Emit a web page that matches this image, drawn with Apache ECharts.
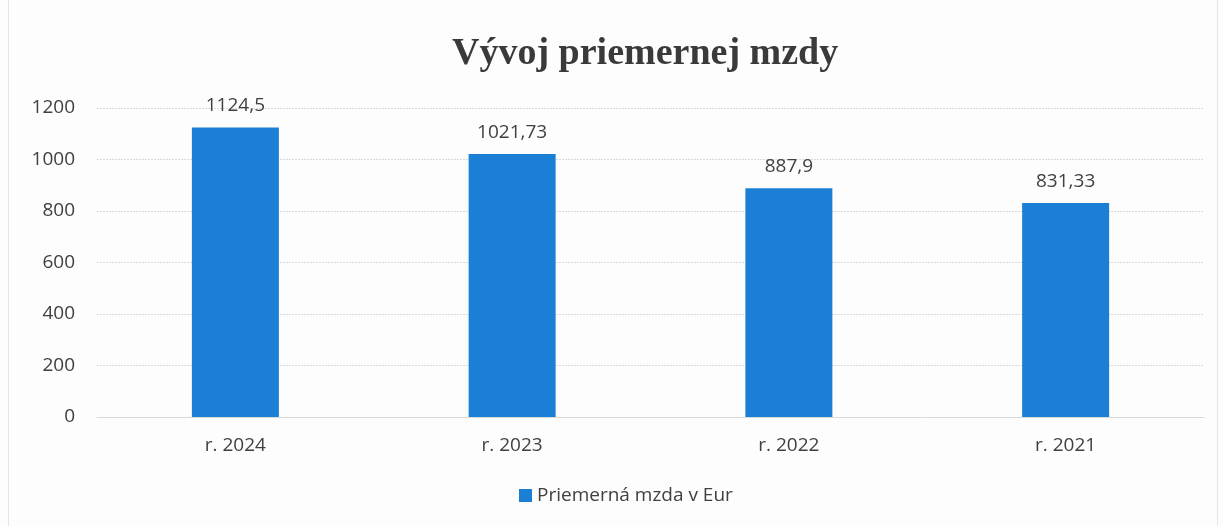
<!DOCTYPE html>
<html>
<head>
<meta charset="utf-8">
<script src="https://cdn.jsdelivr.net/npm/echarts@6/dist/echarts.min.js"></script>
<style>
  html, body { margin: 0; padding: 0; background: #fdfdfd; }
  #chart { position: absolute; left: 8px; top: 0; width: 1210px; height: 526px;
           border-left: 1px solid #e4e4e4; border-right: 1px solid #e4e4e4; box-sizing: border-box; }
</style>
</head>
<body>
<div id="chart"></div>
<script>
var categories = ['r. 2024', 'r. 2023', 'r. 2022', 'r. 2021'];
var wages = [1124.5, 1021.73, 887.9, 831.33];
var seriesName = 'Priemerná mzda v Eur';

var chart = echarts.init(document.getElementById('chart'));
chart.setOption({
    backgroundColor: '#fdfdfd',
    title: {
        text: 'Vývoj priemernej mzdy',
        left: 438,
        top: 30,
        textStyle: { fontFamily: 'Liberation Serif', fontWeight: 'bold', fontSize: 38, color: '#3a3a3a' }
    },
    legend: {
        data: [seriesName],
        bottom: 16,
        left: 505,
        icon: 'rect',
        itemWidth: 13,
        itemHeight: 13,
        itemGap: 6,
        textStyle: { fontFamily: 'Open Sans', fontSize: 19, color: '#404040' }
    },
    grid: { left: 88, right: 13, top: 108, bottom: 109 },
    xAxis: {
        type: 'category',
        data: categories,
        axisLine: { lineStyle: { color: '#d9d9d9' } },
        axisTick: { show: false },
        axisLabel: { fontFamily: 'Open Sans', fontSize: 19, color: '#404040', margin: 19 }
    },
    yAxis: {
        type: 'value',
        min: 0,
        max: 1200,
        interval: 200,
        axisLine: { show: false },
        axisTick: { show: false },
        splitLine: { lineStyle: { color: '#dadada', type: [2, 1] } },
        axisLabel: {
            fontFamily: 'Open Sans', fontSize: 19, color: '#404040', margin: 22,
            formatter: function (v) { return String(v); }
        }
    },
    series: [{
        name: seriesName,
        type: 'bar',
        data: wages,
        barWidth: 87,
        itemStyle: { color: '#1b7fd5' },
        label: {
            show: true,
            position: 'top',
            distance: 12,
            fontFamily: 'Open Sans',
            fontSize: 19,
            color: '#404040',
            formatter: function (p) { return String(p.value).replace('.', ','); }
        }
    }]
});
</script>
</body>
</html>
